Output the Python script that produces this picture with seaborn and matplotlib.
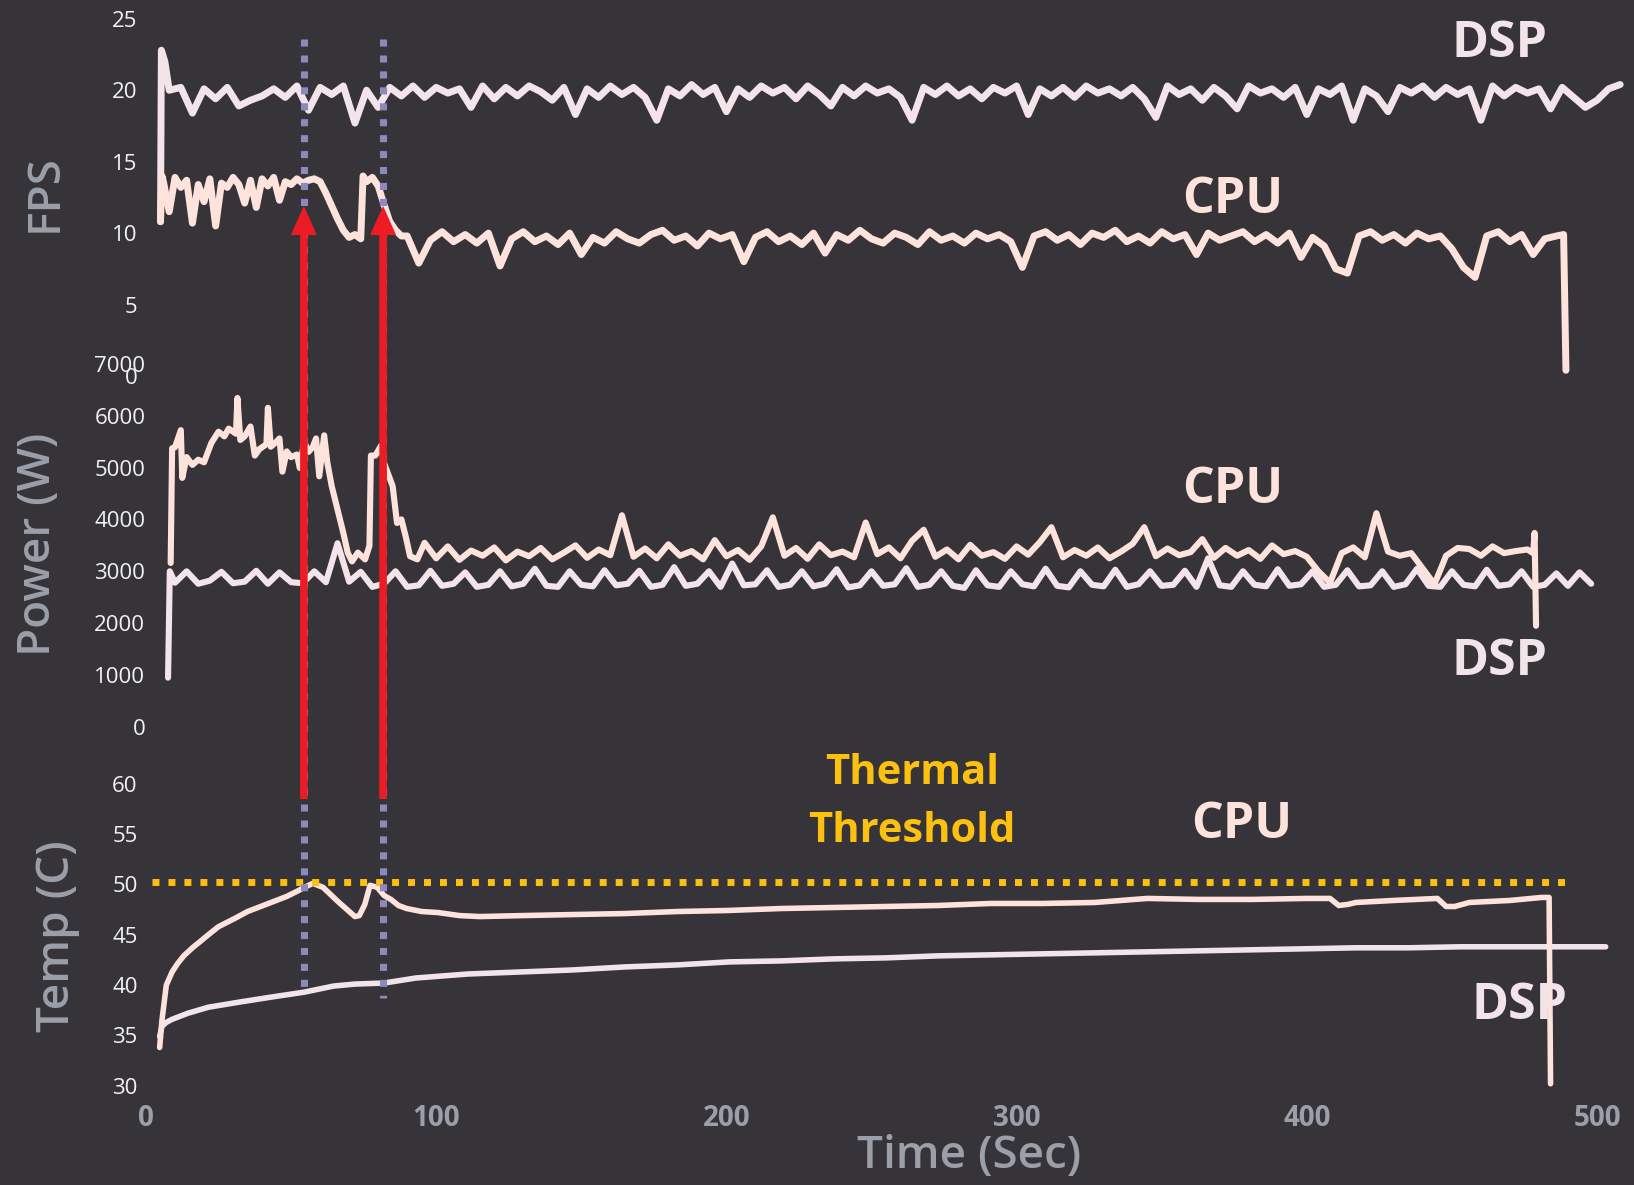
import numpy as np
import pandas as pd
import matplotlib
matplotlib.use("Agg")
import matplotlib.pyplot as plt
import seaborn as sns
from matplotlib.lines import Line2D
from matplotlib.patches import FancyArrow
from matplotlib.transforms import blended_transform_factory

# ---------------- FPS ----------------
dsp_fps_head_t = [5.0, 5.3, 6.5]
dsp_fps_head_v = [10.8, 22.8, 22.0]
dsp_fps_t = np.arange(8, 509, 4)          # sampled every 4 s
dsp_fps_v = [
    20.0, 20.2, 18.4, 20.1, 19.4, 20.2, 18.9, 19.3, 19.6, 20.1,
    19.5, 20.3, 18.6, 20.2, 19.7, 20.3, 17.7, 20.0, 18.8, 20.2,
    19.6, 20.3, 19.5, 20.2, 19.8, 20.1, 18.8, 20.3, 19.4, 20.2,
    19.6, 20.3, 19.9, 19.3, 20.2, 18.3, 20.1, 19.5, 20.3, 19.7,
    20.2, 19.5, 17.9, 20.1, 19.6, 20.4, 19.7, 20.2, 18.5, 20.1,
    19.5, 20.3, 19.8, 20.2, 19.4, 20.3, 19.7, 18.9, 20.2, 19.6,
    20.3, 19.8, 20.1, 19.5, 17.9, 20.2, 19.7, 20.3, 19.6, 20.1,
    19.4, 20.2, 19.8, 20.3, 18.3, 20.1, 19.6, 20.2, 19.5, 20.3,
    19.8, 20.1, 19.6, 20.2, 19.4, 18.1, 20.3, 19.7, 20.1, 19.3,
    20.2, 19.6, 18.7, 20.3, 19.8, 20.1, 19.5, 20.2, 18.3, 20.1,
    19.7, 20.3, 17.9, 20.1, 19.6, 18.5, 20.2, 19.8, 20.3, 19.5,
    20.2, 19.7, 20.1, 17.9, 20.3, 19.6, 20.2, 19.8, 20.1, 18.7,
    20.2, 19.5, 18.8, 19.3, 20.1, 20.4,
]

cpu_fps_head_t = [5.0, 5.5]
cpu_fps_head_v = [10.8, 14.0]
cpu_fps_a_t = np.arange(6, 55, 2)          # sampled every 2 s
cpu_fps_a_v = [
    13.6, 11.5, 13.9, 13.2, 13.7, 10.7, 13.4, 12.2, 13.8, 10.5,
    13.5, 13.2, 13.9, 13.4, 12.1, 13.7, 11.8, 13.8, 13.3, 13.9,
    12.3, 13.6, 13.4, 13.8, 13.5,
]
cpu_fps_b_t = [56, 58, 60, 62, 64, 66, 68, 70, 72, 74, 74.8, 76, 78, 80,
               82, 84, 86, 88]
cpu_fps_b_v = [13.7, 13.8, 13.6, 12.8, 11.9, 11.0, 10.2, 9.7, 9.9, 9.6,
               14.0, 13.6, 13.9, 13.3, 12.0, 10.8, 10.2, 9.8]
cpu_fps_c_t = np.arange(90, 487, 4)        # sampled every 4 s
cpu_fps_c_v = [
    9.8, 7.9, 9.5, 10.1, 9.4, 9.9, 9.3, 10.0, 7.7, 9.6,
    10.1, 9.4, 9.8, 9.2, 10.0, 8.5, 9.7, 9.3, 10.1, 9.6,
    9.3, 9.9, 10.2, 9.5, 9.8, 9.1, 10.0, 9.6, 9.9, 8.0,
    9.7, 10.1, 9.4, 9.8, 9.2, 10.0, 8.6, 9.9, 9.5, 10.2,
    9.6, 9.3, 10.0, 9.7, 9.2, 10.1, 9.5, 9.8, 9.3, 10.0,
    9.6, 9.9, 9.4, 7.6, 9.8, 10.1, 9.5, 9.9, 9.2, 10.0,
    9.7, 10.2, 9.4, 9.8, 9.3, 10.1, 9.6, 9.9, 8.5, 10.0,
    9.5, 9.8, 10.1, 9.4, 9.9, 9.3, 10.0, 8.3, 9.7, 9.1,
    7.5, 7.2, 9.8, 10.1, 9.5, 9.9, 9.3, 10.0, 9.6, 9.8,
    8.9, 7.6, 6.9, 9.8, 10.1, 9.4, 9.9, 8.5, 9.6, 9.8,
]
cpu_fps_tail_t = [488.5, 489.3]
cpu_fps_tail_v = [9.9, 0.4]

# ---------------- Power ----------------
cpu_pow_a_t = [8.5, 9.0, 10, 12, 12.5, 14, 16, 18, 20, 22.5, 25, 27,
               28.5, 31, 31.5, 32.5, 34, 36, 37.5, 39, 41.5, 42,
               43, 45, 46, 47, 48.5, 50, 52, 53, 54.5, 56,
               57.5, 58.6, 59.7, 61.4, 62.5, 64, 66, 68, 69.5, 71,
               73, 75.5, 77, 77.5, 79, 81, 82, 85, 86.5, 88,
               89.5, 91, 93.5]
cpu_pow_a_v = [3160, 5370, 5390, 5720, 4800, 5200, 5050, 5150, 5100, 5470, 5690, 5600,
               5750, 5650, 6340, 5530, 5600, 5790, 5230, 5350, 5450, 6150,
               5400, 5500, 5560, 4920, 5310, 5200, 5250, 4990, 5500, 5300,
               5400, 5560, 4830, 5620, 5090, 4640, 4190, 3740, 3360, 3190,
               3360, 3230, 3490, 5230, 5230, 5420, 5090, 4640, 3930, 4000,
               3670, 3290, 3230]
cpu_pow_b_t = np.arange(96, 477, 4)        # sampled every 4 s
cpu_pow_b_v = [
    3550, 3250, 3480, 3220, 3400, 3300, 3460, 3210, 3380, 3290,
    3450, 3230, 3360, 3500, 3260, 3420, 3310, 4080, 3280, 3440,
    3250, 3520, 3300, 3390, 3230, 3600, 3290, 3410, 3220, 3480,
    4040, 3300, 3450, 3240, 3520, 3310, 3380, 3270, 3940, 3330,
    3460, 3250, 3590, 3800, 3280, 3420, 3230, 3510, 3300, 3370,
    3240, 3480, 3320, 3560, 3850, 3270, 3410, 3300, 3460, 3250,
    3380, 3530, 3850, 3290, 3440, 3310, 3370, 3620, 3260, 3450,
    3300, 3410, 3240, 3500, 3330, 3390, 3280, 3000, 2780, 3350,
    3460, 3270, 4120, 3380, 3300, 3350, 3050, 2750, 3300, 3450,
    3430, 3300, 3480, 3350, 3390, 3420,
]
cpu_pow_tail_t = [478.0, 478.5, 479.0]
cpu_pow_tail_v = [3350, 3740, 1950]

dsp_pow_head_t = [7.6, 8.2]
dsp_pow_head_v = [950, 3000]
dsp_pow_t = np.arange(10, 499, 4)          # sampled every 4 s
dsp_pow_v = [
    2780, 3000, 2760, 2820, 2990, 2770, 2800, 3010, 2760, 2980,
    2790, 2770, 3000, 2790, 3540, 2800, 2990, 2700, 2760, 3000,
    2700, 2730, 3010, 2720, 2760, 2980, 2700, 2740, 3000, 2710,
    2760, 3050, 2720, 2700, 3000, 2740, 2710, 3020, 2730, 2760,
    3010, 2700, 2740, 3080, 2720, 2760, 3000, 2700, 3150, 2730,
    2750, 3020, 2700, 2740, 3000, 2710, 2760, 3040, 2690, 2730,
    3000, 2720, 2750, 3060, 2700, 2740, 3000, 2720, 2680, 3020,
    2730, 2700, 3000, 2750, 2710, 3050, 2720, 2690, 3000, 2740,
    2710, 3030, 2700, 2750, 3000, 2720, 2740, 3010, 2700, 3250,
    2730, 2700, 3000, 2740, 2710, 3040, 2720, 2750, 3000, 2700,
    2740, 3020, 2710, 2730, 3000, 2700, 2750, 3050, 2720, 2700,
    3000, 2740, 2710, 3030, 2720, 2750, 3000, 2700, 2740, 2960,
    2720, 2980, 2760,
]

# ---------------- Temperature ----------------
cpu_temp_t = [4.7, 5.5, 7, 9, 10.8, 13, 16, 19, 21.5, 25,
              30.5, 35, 39.5, 44, 48.5, 52, 54.6, 57.5, 61, 66.5,
              72, 73.5, 75.4, 77.2, 79.7, 82, 84.4, 87, 89.8, 95,
              100.6, 108, 115, 130, 147, 165, 183, 200, 219, 237,
              255, 273, 291, 309, 327, 345, 363, 381, 400, 408,
              411, 414, 417, 430, 445, 448, 451, 456, 470, 481,
              483.5, 484]
cpu_temp_v = [33.8, 36.5, 40.0, 41.3, 42.1, 42.9, 43.7, 44.4, 45.0, 45.8,
              46.6, 47.3, 47.8, 48.3, 48.8, 49.3, 49.7, 50.1, 49.7, 48.2,
              46.8, 46.9, 48.0, 49.9, 49.7, 48.9, 48.5, 47.9, 47.6, 47.3,
              47.2, 46.9, 46.8, 46.9, 47.0, 47.1, 47.3, 47.4, 47.6, 47.7,
              47.8, 47.9, 48.1, 48.1, 48.2, 48.6, 48.5, 48.5, 48.6, 48.6,
              47.9, 48.0, 48.2, 48.4, 48.6, 47.8, 47.8, 48.2, 48.4, 48.7,
              48.7, 30.2]
dsp_temp_t = [4.7, 5.5, 7, 9, 14.4, 21.5, 32, 43, 54.6, 64.6,
              72, 82, 93, 111, 129, 147, 165, 183, 201, 219,
              237, 255, 273, 291, 309, 327, 345, 363, 381, 399,
              417, 435, 453, 471, 489, 503]
dsp_temp_v = [34.9, 35.9, 36.3, 36.6, 37.2, 37.8, 38.3, 38.8, 39.3, 39.9,
              40.1, 40.2, 40.7, 41.1, 41.3, 41.5, 41.8, 42.0, 42.3, 42.4,
              42.6, 42.7, 42.9, 43.0, 43.1, 43.2, 43.3, 43.4, 43.5, 43.6,
              43.7, 43.7, 43.8, 43.8, 43.8, 43.8]

thermal_threshold = 50.2
threshold_span = (2, 490)
throttle_times = [54.4, 81.7]

fps_ticks = [0, 5, 10, 15, 20, 25]
power_ticks = [0, 1000, 2000, 3000, 4000, 5000, 6000, 7000]
temp_ticks = [30, 35, 40, 45, 50, 55, 60]
time_ticks = [0, 100, 200, 300, 400, 500]


def series(*parts):
    ts, vs = [], []
    for t, v in parts:
        ts.extend(list(t))
        vs.extend(list(v))
    return pd.DataFrame({"t": ts, "v": vs})


df_dsp_fps = series((dsp_fps_head_t, dsp_fps_head_v), (dsp_fps_t, dsp_fps_v))
df_cpu_fps = series((cpu_fps_head_t, cpu_fps_head_v), (cpu_fps_a_t, cpu_fps_a_v),
                    (cpu_fps_b_t, cpu_fps_b_v), (cpu_fps_c_t, cpu_fps_c_v),
                    (cpu_fps_tail_t, cpu_fps_tail_v))
df_cpu_pow = series((cpu_pow_a_t, cpu_pow_a_v), (cpu_pow_b_t, cpu_pow_b_v),
                    (cpu_pow_tail_t, cpu_pow_tail_v))
df_dsp_pow = series((dsp_pow_head_t, dsp_pow_head_v), (dsp_pow_t, dsp_pow_v))
df_cpu_temp = series((cpu_temp_t, cpu_temp_v))
df_dsp_temp = series((dsp_temp_t, dsp_temp_v))

# ---------------- style ----------------
sns.set_theme(style="dark")
plt.rcParams['font.family'] = ['Open Sans', 'DejaVu Sans']

BG = '#363438'
CPU_C = '#fde3dc'
DSP_C = '#f3e4ea'
TICK_C = '#f2f2f2'
TITLE_C = '#9a9fa9'
GOLD = '#fcc010'
RED = '#ed1c24'
MARK = '#8b89bf'

W, H = 1634, 1185
fig = plt.figure(figsize=(W / 100, H / 100), dpi=100)
fig.patch.set_facecolor(BG)


def px_axes(left, top, right, bottom):
    return fig.add_axes([left / W, 1 - bottom / H, (right - left) / W, (bottom - top) / H])


ax_fps = px_axes(146, 18.8, 1626, 376)
ax_pow = px_axes(146, 363.7, 1626, 727)
ax_tmp = px_axes(146, 783.6, 1626, 1085.8)

for ax in (ax_fps, ax_pow, ax_tmp):
    ax.set_facecolor('none')
    ax.set_xlim(0, 510)
    for s in ax.spines.values():
        s.set_visible(False)
    ax.grid(False)

common = dict(x="t", y="v", estimator=None, sort=False, legend=False)
sns.lineplot(data=df_dsp_fps, ax=ax_fps, color=DSP_C, lw=5.0, **common)
sns.lineplot(data=df_cpu_fps, ax=ax_fps, color=CPU_C, lw=5.0, **common)
sns.lineplot(data=df_dsp_pow, ax=ax_pow, color=DSP_C, lw=4.4, **common)
sns.lineplot(data=df_cpu_pow, ax=ax_pow, color=CPU_C, lw=4.4, **common)
sns.lineplot(data=df_dsp_temp, ax=ax_tmp, color=DSP_C, lw=4.0, **common)
sns.lineplot(data=df_cpu_temp, ax=ax_tmp, color=CPU_C, lw=4.0, **common)

ax_fps.set_ylim(0, 25)
ax_pow.set_ylim(0, 7000)
ax_tmp.set_ylim(30, 60)
ax_fps.set_yticks(fps_ticks)
ax_pow.set_yticks(power_ticks)
ax_tmp.set_yticks(temp_ticks)
ax_tmp.set_xticks(time_ticks)
ax_fps.set_xticks([])
ax_pow.set_xticks([])

for ax, pad in ((ax_fps, 6), (ax_pow, 0.5), (ax_tmp, 6)):
    ax.tick_params(axis='y', length=0, pad=pad, labelsize=16, labelcolor=TICK_C)
    ax.set_xlabel('')
    ax.set_ylabel('')
ax_tmp.tick_params(axis='x', length=0, pad=13, labelsize=20, labelcolor=TITLE_C)
for lab in ax_tmp.get_xticklabels():
    lab.set_fontweight('bold')

for ax in (ax_fps, ax_pow, ax_tmp):
    for l in ax.get_lines():
        l.set_clip_on(False)

# thermal threshold
ax_tmp.plot(threshold_span, [thermal_threshold] * 2, color=GOLD, lw=5.0,
            dashes=(1, 1.3), dash_capstyle='butt', clip_on=False)

# throttle markers spanning all panels
bt = blended_transform_factory(ax_tmp.transData, fig.transFigure)
for x, ybot in zip(throttle_times, [1 - 990 / H, 1 - 998 / H]):
    fig.add_artist(Line2D([x, x], [1 - 38.5 / H, ybot], transform=bt, color=MARK,
                          lw=5.1, dashes=(1, 1.25), dash_capstyle='butt', zorder=3))

fig.canvas.draw()
for x in throttle_times:
    xin = ax_tmp.transData.transform((x, 40))[0] / fig.dpi
    y0 = (H - 799) / 100
    y1 = (H - 206) / 100
    fig.add_artist(FancyArrow(xin, y0, 0, y1 - y0, width=0.075, head_width=0.26,
                              head_length=0.29, length_includes_head=True,
                              transform=fig.dpi_scale_trans, color=RED, lw=0,
                              zorder=6))


def ftext(x, y, s, **kw):
    fig.text(x / W, 1 - y / H, s, ha='center', va='center', **kw)


# series labels
lab = dict(fontsize=36, fontweight='bold')
ftext(1500, 44, 'DSP', color=DSP_C, **lab)
ftext(1233, 200, 'CPU', color=CPU_C, **lab)
ftext(1233, 490, 'CPU', color=CPU_C, **lab)
ftext(1500, 662, 'DSP', color=DSP_C, **lab)
ftext(1242, 825, 'CPU', color=CPU_C, **lab)
ftext(1519, 1006, 'DSP', color=DSP_C, **lab)
ftext(912, 773, 'Thermal', color=GOLD, fontsize=30, fontweight='bold')
ftext(912, 832, 'Threshold', color=GOLD, fontsize=30, fontweight='bold')

# axis titles
tt = dict(color=TITLE_C, fontsize=33, fontweight='semibold')
ftext(45, 193, 'FPS', rotation=90, **tt)
ftext(39, 544, 'Power (W)', rotation=90, **tt)
ftext(57, 936, 'Temp (C)', rotation=90, **tt)
ftext(969, 1157, 'Time (Sec)', **tt)

fig.savefig('out.png', dpi=100, facecolor=BG)
